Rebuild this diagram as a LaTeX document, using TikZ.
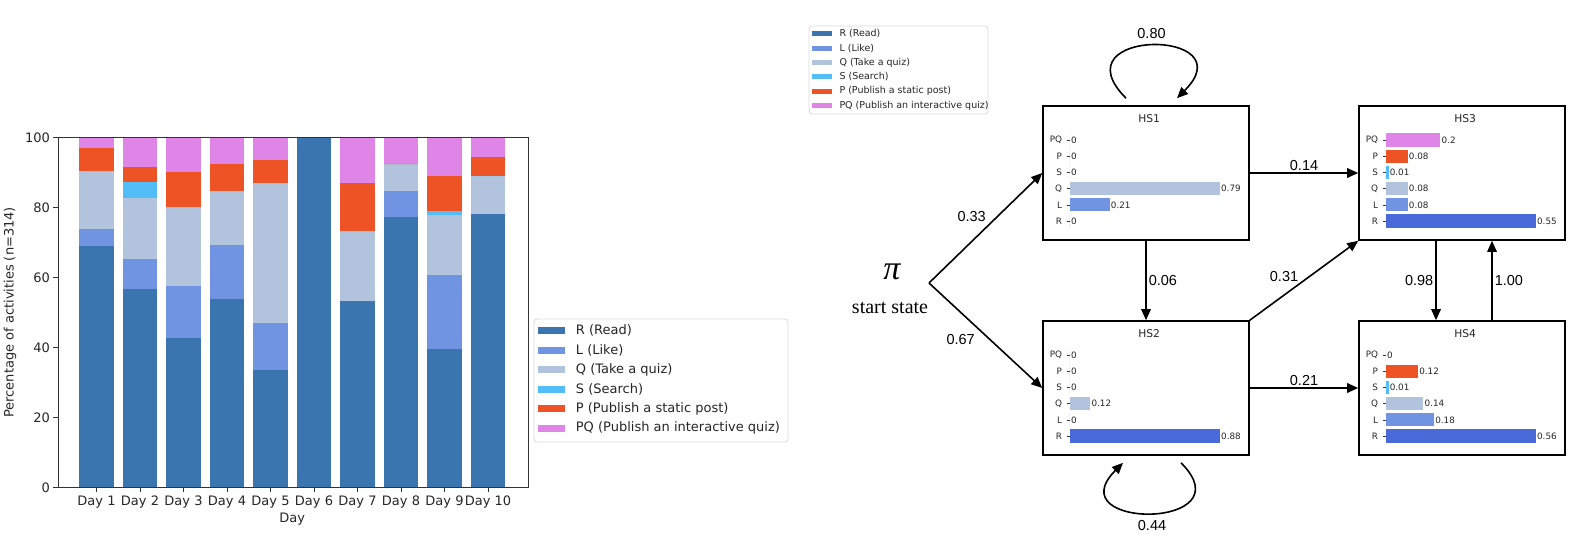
\documentclass[tikz,border=0pt]{standalone}
\usepackage{fontspec}
\usetikzlibrary{arrows.meta,positioning,calc}
\newfontfamily\plotfont{DejaVu Sans}
\newfontfamily\edgefont{Liberation Sans}
\newfontfamily\seriffont{Liberation Serif}
\definecolor{cR}{HTML}{3A75AF}
\definecolor{cRR}{HTML}{4A6AD9}
\definecolor{cL}{HTML}{7094E2}
\definecolor{cQ}{HTML}{B2C3DD}
\definecolor{cS}{HTML}{52BDF7}
\definecolor{cP}{HTML}{EE5326}
\definecolor{cPQ}{HTML}{E085E8}

% one hidden-state panel: box name, title, px per unit, rows
\newcommand{\hspanel}[4]{%
  \begin{scope}[shift={(#1.north west)}]
    \node[hstitle] (#1t) at (107,13.6) {#2};
    \foreach \lab/\val/\col [count=\k from 0] in {#4}{
      \pgfmathsetmacro{\yy}{34.8+16.2*\k}
      \node[rowlab] (#1r\k) at (20,\yy) {\lab};
      \draw[line width=0.6pt, black!80] (24.5,\yy) -- (27.7,\yy);
      \fill[\col] (27.7,\yy-6.6) rectangle ++(\val*#3,13.2);
      \node[vallab] (#1v\k) at (27.7+\val*#3,\yy) {\val};
    }
  \end{scope}}

\begin{document}
\begin{tikzpicture}[x=1pt, y=-1pt,
    spine/.style={line width=1pt, black!80},
    ticklab/.style={font=\plotfont\fontsize{13}{15}\selectfont, text=black!85},
    legbox/.style={draw=black!15, fill=white, rounded corners=3pt, line width=0.8pt},
    hsbox/.style={draw, line width=1.6pt, minimum width=206pt, minimum height=134pt, inner sep=0pt},
    hstitle/.style={font=\plotfont\fontsize{10.7}{12}\selectfont, text=black!85},
    rowlab/.style={anchor=east, inner sep=0pt, font=\plotfont\fontsize{8.8}{10}\selectfont, text=black!85},
    vallab/.style={anchor=west, inner sep=1pt, font=\plotfont\fontsize{8.8}{10}\selectfont, text=black!85},
    elab/.style={inner sep=2pt, font=\edgefont\fontsize{14.5}{16}\selectfont},
    arr/.style={line width=1.6pt, -{Triangle[length=11pt,width=9.5pt]}}]

  % stacked bar chart
  \begin{scope}[shift={(53,487.3)}, x=43.5pt, y=3.5pt]
    \foreach \d/\ra/\lb/\qc/\sd/\pe in {1/69.0/73.9/90.3/90.3/96.9, 2/56.6/65.2/82.8/87.1/91.4,
        3/42.6/57.6/80.0/80.0/90.1, 4/53.9/69.2/84.7/84.7/92.3, 5/33.4/47.0/86.8/86.8/93.4,
        6/100/100/100/100/100, 7/53.3/53.3/73.3/73.3/87.0, 8/77.1/84.7/92.3/92.3/92.3,
        9/39.6/60.7/77.8/79.0/89.0, 10/78.0/78.0/88.9/88.9/94.5}{
      \fill[cR] (\d-0.4,0) rectangle (\d+0.4,\ra);
      \fill[cL] (\d-0.4,\ra) rectangle (\d+0.4,\lb);
      \fill[cQ] (\d-0.4,\lb) rectangle (\d+0.4,\qc);
      \fill[cS] (\d-0.4,\qc) rectangle (\d+0.4,\sd);
      \fill[cP] (\d-0.4,\sd) rectangle (\d+0.4,\pe);
      \fill[cPQ] (\d-0.4,\pe) rectangle (\d+0.4,100);
      \draw[spine] (\d,0) -- ++(0,-5pt) node[below, inner sep=3pt, ticklab] (day\d) {Day \d};
    }
    \foreach \v in {0,20,...,100}
      \draw[spine] (0.115,\v) -- ++(-5pt,0) node[left, inner sep=2.5pt, ticklab] (yt\v) {\v};
    \draw[spine] (0.115,0) rectangle (10.92,100);
    \node[ticklab] (xlab) at (5.5,-9.1) {Day};
    \node[ticklab, rotate=90] (ylab) at (-0.99,50) {Percentage of activities (n=314)};
  \end{scope}

  % legend of the chart
  \draw[legbox] (534,319) rectangle (788,442);
  \foreach \lab/\col [count=\k from 0] in {R (Read)/cR, L (Like)/cL, Q (Take a quiz)/cQ,
      S (Search)/cS, P (Publish a static post)/cP, PQ (Publish an interactive quiz)/cPQ}{
    \fill[\col] (538.3,330.7+19.5*\k-3.5) rectangle (565,330.7+19.5*\k+3.5);
    \node[ticklab, anchor=west, inner sep=0pt] (lg\k) at (575.7,330.7+19.5*\k) {\lab};
  }

  % small legend of the model
  \draw[legbox] (809,26) rectangle (988,114);
  \foreach \lab/\col [count=\k from 0] in {R (Read)/cR, L (Like)/cL, Q (Take a quiz)/cQ,
      S (Search)/cS, P (Publish a static post)/cP, PQ (Publish an interactive quiz)/cPQ}{
    \fill[\col] (812,34+14.3*\k-2.5) rectangle (831.7,34+14.3*\k+2.5);
    \node[anchor=west, inner sep=0pt, font=\plotfont\fontsize{9.5}{11}\selectfont, text=black!85]
      (rl\k) at (839.3,34+14.3*\k) {\lab};
  }

  % hidden states
  \node[hsbox] (hs1) at (1146,173) {};
  \node[hsbox] (hs2) at (1146,388) {};
  \node[hsbox] (hs3) at (1462,173) {};
  \node[hsbox] (hs4) at (1462,388) {};
  \hspanel{hs1}{HS1}{189.9}{PQ/0/cPQ, P/0/cP, S/0/cS, Q/0.79/cQ, L/0.21/cL, R/0/cRR}
  \hspanel{hs2}{HS2}{170.5}{PQ/0/cPQ, P/0/cP, S/0/cS, Q/0.12/cQ, L/0/cL, R/0.88/cRR}
  \hspanel{hs3}{HS3}{272.7}{PQ/0.2/cPQ, P/0.08/cP, S/0.01/cS, Q/0.08/cQ, L/0.08/cL, R/0.55/cRR}
  \hspanel{hs4}{HS4}{267.9}{PQ/0/cPQ, P/0.12/cP, S/0.01/cS, Q/0.14/cQ, L/0.18/cL, R/0.56/cRR}

  % start state
  \node[font=\seriffont\itshape\fontsize{34}{34}\selectfont, inner sep=0pt] (pi) at (892,272) {π};
  \node[font=\seriffont\fontsize{20}{22}\selectfont, inner sep=0pt] (start) at (890,308) {start state};
  \coordinate (pi0) at (929,283);

  \draw[arr] (pi0) -- node[midway, elab, xshift=-14pt, yshift=11pt] {0.33} (hs1.west);
  \draw[arr] (pi0) -- node[midway, elab, xshift=-25pt, yshift=-4pt] {0.67} (hs2.west);
  \draw[arr] (hs1.south) -- node[midway, right, elab] {0.06} (hs2.north);
  \draw[arr] (hs1.east) -- node[midway, above, elab] {0.14} (hs3.west);
  \draw[arr] (hs2.north east) -- node[midway, elab, xshift=-20pt, yshift=4pt] {0.31} (hs3.south west);
  \draw[arr] (hs2.east) -- node[midway, above, elab] {0.21} (hs4.west);
  \draw[arr] ([xshift=-26pt]hs3.south) -- node[midway, left, elab] {0.98} ([xshift=-26pt]hs4.north);
  \draw[arr] ([xshift=30pt]hs4.north) -- node[midway, right, elab] {1.00} ([xshift=30pt]hs3.south);
  \draw[arr] ([xshift=-20pt,yshift=7pt]hs1.north) to[out=135, in=45, looseness=5]
    node[midway, above=4pt, elab] {0.80} ([xshift=31pt,yshift=7pt]hs1.north);
  \draw[arr] ([xshift=35pt,yshift=-7pt]hs2.south) to[out=-45, in=-135, looseness=4.2]
    node[midway, below=4pt, elab] {0.44} ([xshift=-23pt,yshift=-7pt]hs2.south);

  \pgfresetboundingbox
  \useasboundingbox (0,0) rectangle (1586,556);
\end{tikzpicture}
\end{document}
